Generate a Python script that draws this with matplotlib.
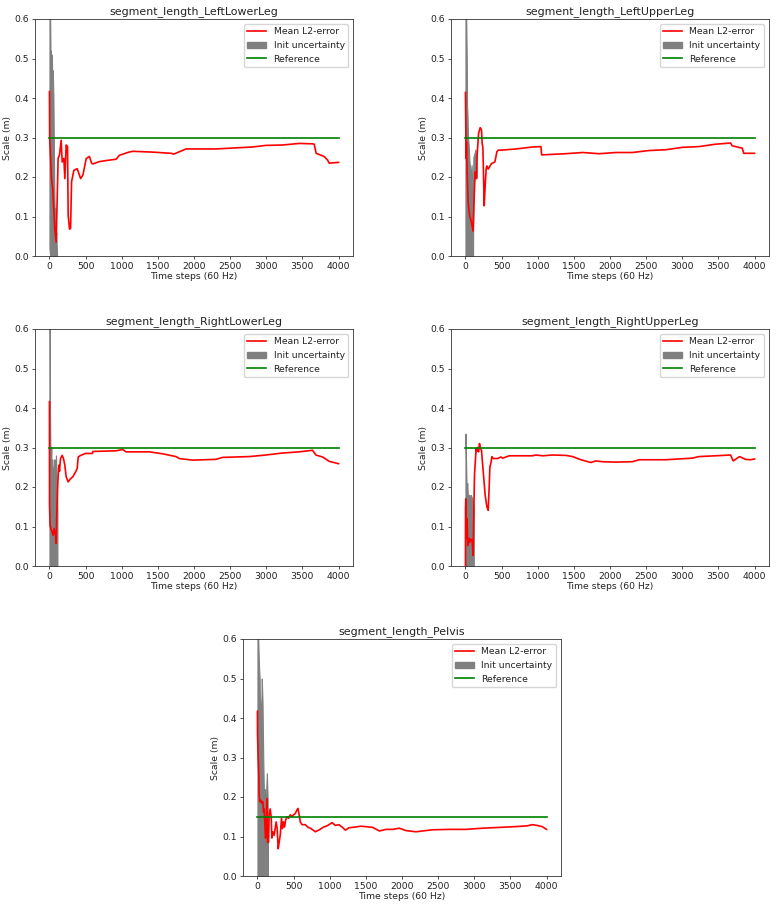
import matplotlib
matplotlib.use("Agg")
import matplotlib.pyplot as plt
from matplotlib.patches import Patch
from matplotlib.lines import Line2D

# ---------------- data ----------------
titles = ["segment_length_LeftLowerLeg", "segment_length_LeftUpperLeg",
          "segment_length_RightLowerLeg", "segment_length_RightUpperLeg",
          "segment_length_Pelvis"]
reference = [0.3, 0.3, 0.3, 0.3, 0.15]
ref_x = [0, 4000]

# LeftLowerLeg
lll_x = [0, 3, 28, 46, 74, 93, 120, 139, 162, 176, 199, 213, 231, 250, 259, 278, 292, 306,
         338, 384, 431, 463, 509, 553, 583, 600, 691, 800, 922, 968, 1100, 1152, 1429, 1682,
         1720, 1889, 2304, 2811, 2995, 3226, 3456, 3640, 3664, 3690, 3800, 3848, 3871, 4000]
lll_y = [0.416, 0.30, 0.196, 0.17, 0.069, 0.035, 0.247, 0.256, 0.293, 0.238, 0.247, 0.196,
         0.281, 0.277, 0.103, 0.068, 0.07, 0.188, 0.217, 0.221, 0.196, 0.205, 0.247, 0.252,
         0.235, 0.233, 0.239, 0.242, 0.245, 0.255, 0.263, 0.265, 0.263, 0.26, 0.258, 0.271,
         0.271, 0.276, 0.28, 0.281, 0.285, 0.284, 0.283, 0.26, 0.252, 0.243, 0.235, 0.237]
lll_gx = [0, 5, 10, 15, 20, 25, 30, 35, 40, 45, 50, 55, 60, 65, 70, 75, 80, 85, 90, 95, 100, 105]
lll_gu = [0.65, 0.66, 0.60, 0.50, 0.52, 0.48, 0.51, 0.49, 0.45, 0.47, 0.44, 0.40, 0.30, 0.20,
          0.13, 0.10, 0.12, 0.08, 0.05, 0.06, 0.03, 0.0]
lll_gl = [0.02, 0.01, 0.0, 0.01, 0.0, 0.0, 0.01, 0.0, 0.0, 0.0, 0.0, 0.0, 0.0, 0.0, 0.0, 0.0,
          0.0, 0.0, 0.0, 0.0, 0.0, 0.0]

# LeftUpperLeg
lul_x = [0, 9, 14, 23, 37, 56, 83, 106, 120, 134, 153, 162, 181, 204, 222, 231, 241, 250,
         259, 273, 287, 296, 315, 333, 361, 407, 435, 454, 500, 700, 930, 1045, 1054, 1390,
         1620, 1850, 2080, 2310, 2540, 2770, 3000, 3230, 3460, 3668, 3690, 3830, 3850, 4000]
lul_y = [0.414, 0.247, 0.289, 0.213, 0.137, 0.103, 0.086, 0.063, 0.145, 0.213, 0.196, 0.255,
         0.31, 0.325, 0.319, 0.285, 0.275, 0.205, 0.127, 0.179, 0.221, 0.228, 0.22, 0.226,
         0.234, 0.238, 0.264, 0.268, 0.268, 0.271, 0.276, 0.277, 0.256, 0.259, 0.262, 0.259,
         0.262, 0.262, 0.267, 0.269, 0.275, 0.277, 0.283, 0.286, 0.279, 0.273, 0.26, 0.26]
lul_gx = [0, 8, 12, 18, 22, 28, 35, 45, 55, 65, 75, 85, 95, 105, 110, 125, 140, 155]
lul_gu = [0.66, 0.64, 0.58, 0.50, 0.38, 0.36, 0.30, 0.28, 0.24, 0.22, 0.20, 0.23, 0.18, 0.15,
          0.25, 0.26, 0.27, 0.22]
lul_gl = [0.0, 0.0, 0.0, 0.0, 0.0, 0.0, 0.0, 0.0, 0.0, 0.0, 0.0, 0.0, 0.0, 0.0, 0.18, 0.20,
          0.20, 0.20]

# RightLowerLeg
rll_x = [0, 1, 9, 19, 37, 51, 65, 83, 93, 102, 116, 130, 139, 153, 176, 194, 213, 231, 259,
         292, 324, 361, 384, 398, 431, 500, 593, 602, 922, 1014, 1060, 1382, 1567, 1751, 1797,
         1982, 2304, 2396, 2765, 2995, 3226, 3456, 3640, 3687, 3779, 3871, 4000]
rll_y = [0.416, 0.154, 0.103, 0.095, 0.086, 0.078, 0.095, 0.078, 0.057, 0.137, 0.213, 0.255,
         0.24, 0.272, 0.28, 0.272, 0.255, 0.226, 0.213, 0.221, 0.226, 0.238, 0.247, 0.276,
         0.28, 0.285, 0.285, 0.29, 0.2916, 0.295, 0.289, 0.289, 0.284, 0.277, 0.272, 0.268,
         0.27, 0.275, 0.277, 0.281, 0.286, 0.289, 0.293, 0.281, 0.276, 0.265, 0.259]
rll_gx = [0, 5, 8, 12, 18, 25, 30, 40, 50, 60, 70, 80, 90, 100, 110]
rll_gu = [0.62, 0.59, 0.40, 0.30, 0.26, 0.30, 0.22, 0.27, 0.20, 0.25, 0.27, 0.20, 0.28, 0.22,
          0.15]
rll_gl = [0.0, 0.0, 0.0, 0.0, 0.0, 0.0, 0.0, 0.0, 0.0, 0.0, 0.0, 0.0, 0.0, 0.0, 0.0]

# RightUpperLeg
rul_x = [0, 1, 5, 14, 23, 32, 46, 60, 74, 93, 106, 116, 125, 139, 148, 157, 167, 181, 194,
         208, 222, 231, 250, 273, 296, 315, 329, 338, 352, 366, 384, 444, 491, 515, 607, 930,
         976, 1068, 1206, 1390, 1482, 1597, 1735, 1804, 1896, 2080, 2310, 2402, 2770, 3138,
         3230, 3460, 3668, 3705, 3760, 3792, 3875, 3945, 4000]
rul_y = [0.0, 0.147, 0.17, 0.07, 0.12, 0.052, 0.07, 0.06, 0.068, 0.065, 0.027, 0.137, 0.23,
         0.272, 0.298, 0.29, 0.30, 0.289, 0.31, 0.298, 0.293, 0.272, 0.23, 0.179, 0.15, 0.141,
         0.204, 0.251, 0.26, 0.277, 0.272, 0.272, 0.276, 0.273, 0.279, 0.279, 0.281, 0.279,
         0.281, 0.28, 0.277, 0.269, 0.262, 0.266, 0.264, 0.263, 0.264, 0.269, 0.269, 0.273,
         0.277, 0.279, 0.281, 0.266, 0.273, 0.277, 0.27, 0.269, 0.271]
rul_gx = [0, 5, 10, 15, 20, 25, 35, 45, 55, 65, 75, 85, 95, 105, 115]
rul_gu = [0.335, 0.30, 0.25, 0.21, 0.20, 0.21, 0.17, 0.18, 0.18, 0.17, 0.18, 0.175, 0.17,
          0.16, 0.15]
rul_gl = [0.0, 0.0, 0.0, 0.0, 0.0, 0.0, 0.0, 0.0, 0.0, 0.0, 0.0, 0.0, 0.0, 0.0, 0.0]

# Pelvis
pel_x = [0, 1, 9, 19, 23, 32, 46, 60, 74, 83, 93, 102, 111, 120, 130, 139, 153, 162, 176,
         190, 199, 213, 231, 245, 259, 273, 287, 301, 315, 333, 347, 361, 375, 389, 407, 431,
         454, 477, 500, 523, 546, 560, 574, 593, 616, 662, 694, 741, 801, 847, 917, 963, 1032,
         1079, 1125, 1171, 1218, 1264, 1357, 1426, 1503, 1595, 1687, 1779, 1871, 1963, 2055,
         2193, 2423, 2653, 2883, 3113, 3343, 3572, 3733, 3802, 3871, 3940, 4000]
pel_y = [0.417, 0.358, 0.307, 0.256, 0.205, 0.188, 0.192, 0.184, 0.188, 0.162, 0.17, 0.137,
         0.096, 0.103, 0.196, 0.085, 0.086, 0.155, 0.17, 0.15, 0.096, 0.112, 0.103, 0.12,
         0.137, 0.12, 0.069, 0.086, 0.103, 0.146, 0.12, 0.137, 0.124, 0.141, 0.15, 0.146,
         0.155, 0.15, 0.155, 0.158, 0.167, 0.171, 0.158, 0.137, 0.13, 0.13, 0.124, 0.12,
         0.112, 0.116, 0.124, 0.127, 0.135, 0.128, 0.13, 0.124, 0.116, 0.122, 0.124, 0.126,
         0.125, 0.123, 0.114, 0.118, 0.118, 0.121, 0.115, 0.112, 0.117, 0.118, 0.118, 0.121,
         0.123, 0.125, 0.127, 0.13, 0.128, 0.125, 0.118]
pel_gx = [0, 8, 15, 22, 30, 38, 45, 55, 60, 70, 80, 90, 100, 110, 120, 130, 140, 145]
pel_gu = [0.66, 0.62, 0.57, 0.53, 0.50, 0.38, 0.42, 0.45, 0.50, 0.44, 0.30, 0.20, 0.22, 0.18,
          0.21, 0.26, 0.20, 0.10]
pel_gl = [0.0] * 18

series = [
    (lll_x, lll_y, lll_gx, lll_gu, lll_gl),
    (lul_x, lul_y, lul_gx, lul_gu, lul_gl),
    (rll_x, rll_y, rll_gx, rll_gu, rll_gl),
    (rul_x, rul_y, rul_gx, rul_gu, rul_gl),
    (pel_x, pel_y, pel_gx, pel_gu, pel_gl),
]

# ---------------- layout ----------------
W, H = 777, 906
fig = plt.figure(figsize=(W / 100, H / 100), dpi=100)
boxes = [(35, 19), (451, 19), (35, 329), (451, 329), (243, 639)]  # left, top in px
aw, ah = 318, 237

fs_tick = 6.7
fs_title = 7.9
lw = 1.2

for i, ((lx, top), (x, y, gx, gu, gl)) in enumerate(zip(boxes, series)):
    ax = fig.add_axes([lx / W, 1 - (top + ah) / H, aw / W, ah / H])
    ax.fill_between(gx, gl, gu, color="gray", linewidth=0.8, edgecolor="gray")
    ax.plot(x, y, color="red", linewidth=lw)
    ax.plot(ref_x, [reference[i]] * 2, color="green", linewidth=lw)
    ax.set_xlim(-200, 4200)
    ax.set_ylim(0, 0.6)
    ax.set_xticks([0, 500, 1000, 1500, 2000, 2500, 3000, 3500, 4000])
    ax.set_yticks([0.0, 0.1, 0.2, 0.3, 0.4, 0.5, 0.6])
    ax.tick_params(labelsize=fs_tick, length=2.3, width=0.6, pad=2, colors="#333333",
                   labelcolor="#222222")
    for s in ax.spines.values():
        s.set_linewidth(0.6)
        s.set_color("#333333")
    ax.set_title(titles[i], fontsize=fs_title, pad=3.5, color="#222222")
    ax.set_xlabel("Time steps (60 Hz)", fontsize=fs_tick, labelpad=1, color="#222222")
    ax.set_ylabel("Scale (m)", fontsize=fs_tick, labelpad=2, color="#222222")
    handles = [Line2D([], [], color="red", linewidth=lw),
               Patch(facecolor="gray", edgecolor="gray"),
               Line2D([], [], color="green", linewidth=lw)]
    leg = ax.legend(handles, ["Mean L2-error", "Init uncertainty", "Reference"],
                    loc="upper right", fontsize=fs_tick, framealpha=0.8,
                    borderpad=0.4, handlelength=2.0, labelspacing=0.5)
    for t in leg.get_texts():
        t.set_color("#222222")

fig.savefig("out.png", dpi=100)
